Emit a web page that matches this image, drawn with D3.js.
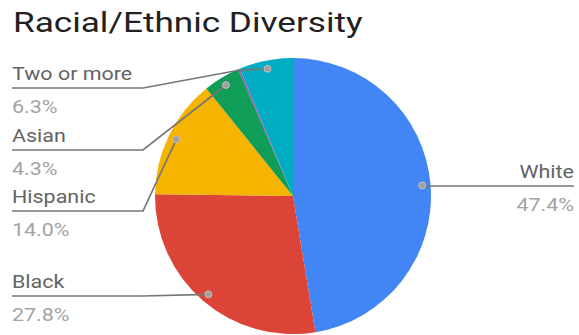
<!DOCTYPE html>
<html>
<head>
<meta charset="utf-8">
<script src="https://cdn.jsdelivr.net/npm/d3@7/dist/d3.min.js"></script>
<style>
  body { margin: 0; background: #fff; }
  svg { display: block; font-family: Roboto, "Noto Sans", sans-serif; }
</style>
</head>
<body>
<svg id="chart" width="579" height="335"></svg>
<script>
// data
const categories = ["White", "Black", "Hispanic", "Asian", "Other", "Two or more"];
const percents = [47.4, 27.8, 14.0, 4.3, 0.2, 6.3];
const sliceColors = ["#4285f4", "#db4437", "#f4b400", "#0f9d58", "#ab47bc", "#00acc1"];
const labelled = ["White", "Black", "Hispanic", "Asian", "Two or more"];

// label layout (y of the leader line, side)
const labelLayout = {
    "White":       { side: "right", y: 186 },
    "Black":       { side: "left",  y: 296 },
    "Hispanic":    { side: "left",  y: 211 },
    "Asian":       { side: "left",  y: 150 },
    "Two or more": { side: "left",  y: 88, bend: true }
};

const width = 579, height = 335;
const cx = 293, cy = 196, radius = 138;

const svg = d3.select("#chart");

// the original text is a bit wider than Roboto, stretch it horizontally
function stretchedText(x, y, txt, size, stretch, color, anchor) {
    return svg.append("text")
        .attr("transform", `translate(${x},${y}) scale(${stretch},1)`)
        .attr("text-anchor", anchor || "start")
        .attr("fill", color)
        .style("font-size", size + "px")
        .text(txt);
}

// title
stretchedText(13, 32, "Racial/Ethnic Diversity", 27.8, 1.265, "#212121");

const data = categories.map((c, i) => ({ name: c, value: percents[i], color: sliceColors[i] }));

const pie = d3.pie()
    .value(d => d.value)
    .sort(null);

const arcs = pie(data);

const arc = d3.arc()
    .innerRadius(0)
    .outerRadius(radius);

const g = svg.append("g")
    .attr("transform", `translate(${cx},${cy})`);

g.selectAll("path.slice")
    .data(arcs)
    .enter()
    .append("path")
    .attr("class", "slice")
    .attr("d", arc)
    .attr("fill", d => d.data.color);

function polar(angle, r) {
    return [cx + r * Math.sin(angle), cy - r * Math.cos(angle)];
}

const lineColor = "#767676";

arcs.filter(a => labelled.includes(a.data.name)).forEach(a => {
    const lay = labelLayout[a.data.name];
    const mid = (a.startAngle + a.endAngle) / 2;
    const dot = polar(mid, radius * 0.94);

    let pts;
    if (lay.side === "right") {
        pts = [[dot[0], lay.y], [width - 5, lay.y]];
    } else {
        pts = [[12, lay.y], [143, lay.y]];
        if (lay.bend) {
            // passes the outer edge at the end of the asian slice
            pts.push(polar(arcs[3].endAngle, radius - 1));
        }
        pts.push(dot);
    }

    svg.append("path")
        .attr("d", d3.line()(pts))
        .attr("fill", "none")
        .attr("stroke", lineColor)
        .attr("stroke-width", 1.7);

    svg.append("circle")
        .attr("cx", dot[0])
        .attr("cy", dot[1])
        .attr("r", 3.5)
        .attr("fill", "#a0a0a0")
        .attr("stroke", "#c8c8c8")
        .attr("stroke-width", 0.8);

    const tx = lay.side === "right" ? width - 5 : 12;
    const anchor = lay.side === "right" ? "end" : "start";

    stretchedText(tx, lay.y - 8.5, a.data.name, 19, 1.13, "#636363", anchor);
    stretchedText(tx, lay.y + 24.5, a.data.value.toFixed(1) + "%", 19, 1.13, "#a3a3a3", anchor);
});
</script>
</body>
</html>
